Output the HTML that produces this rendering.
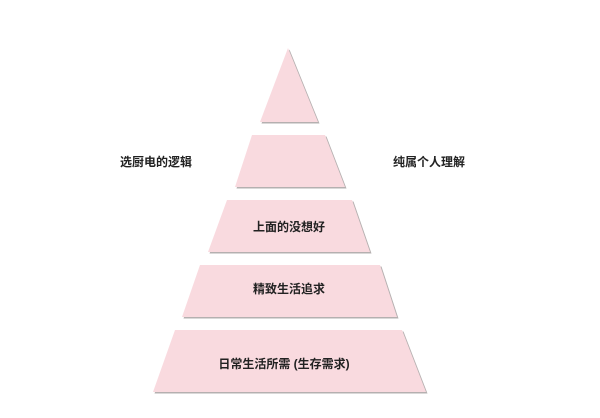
<!DOCTYPE html>
<html><head><meta charset="utf-8"><style>
body{margin:0;background:#fff;}
svg text{font-family:"Liberation Sans","Noto Sans CJK SC",sans-serif;font-size:12px;font-weight:bold;fill:#222;}
</style></head><body>
<svg width="600" height="413" viewBox="0 0 600 413" xmlns="http://www.w3.org/2000/svg">
<g fill="#b5b0b0" transform="translate(1.5,1.5)">
<polygon points="288,48 318,122 260,122"/>
<polygon points="252,135 325,135 345,187 235,187"/>
<polygon points="227,200 352,200 370,252 208,252"/>
<polygon points="200,265 380,265 397,317 182,317"/>
<polygon points="175,330 402,330 426,392 153,392"/>
</g>
<g fill="#f9dadf">
<polygon points="288,48 318,122 260,122"/>
<polygon points="252,135 325,135 345,187 235,187"/>
<polygon points="227,200 352,200 370,252 208,252"/>
<polygon points="200,265 380,265 397,317 182,317"/>
<polygon points="175,330 402,330 426,392 153,392"/>
</g>
<text x="156" y="166" text-anchor="middle">选厨电的逻辑</text>
<text x="429" y="166" text-anchor="middle">纯属个人理解</text>
<text x="289" y="231" text-anchor="middle">上面的没想好</text>
<text x="289" y="293" text-anchor="middle">精致生活追求</text>
<text x="284" y="368" text-anchor="middle">日常生活所需 (生存需求)</text>
</svg>
</body></html>
